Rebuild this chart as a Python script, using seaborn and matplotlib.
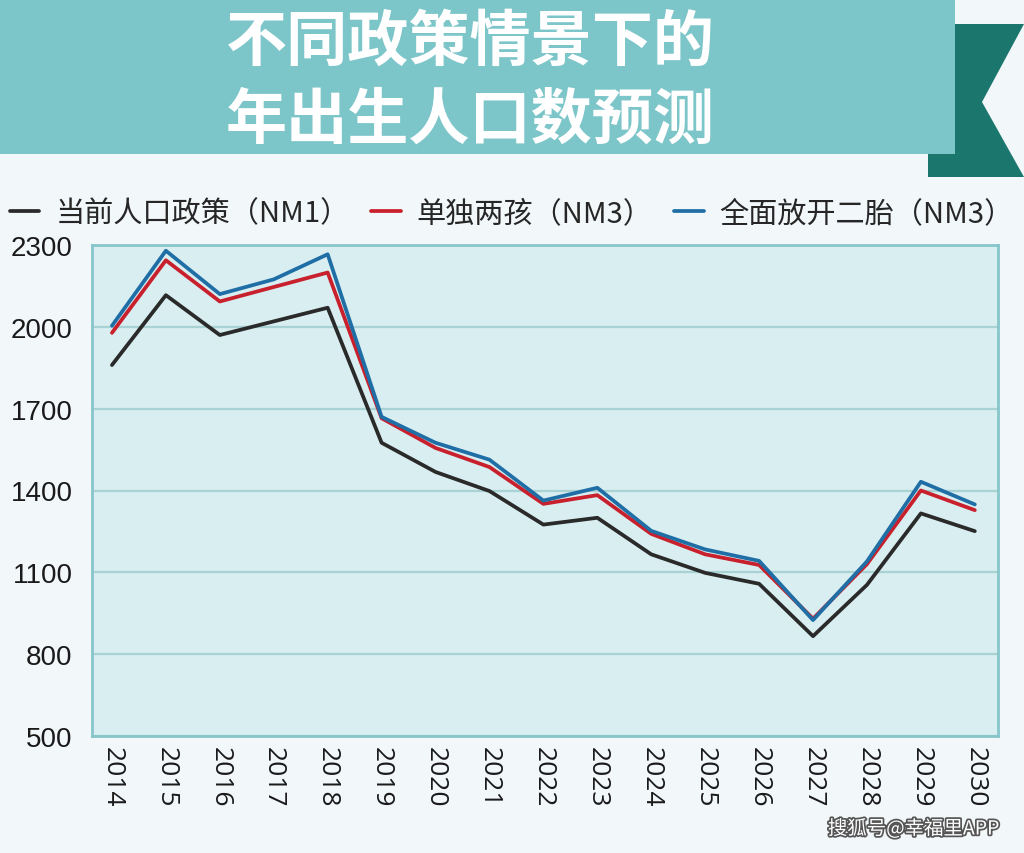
import numpy as np
import pandas as pd
import matplotlib
matplotlib.use("Agg")
import matplotlib.pyplot as plt
from matplotlib.patches import Rectangle, Polygon
import matplotlib.patheffects as pe
from matplotlib.ticker import FixedLocator
import seaborn as sns

# ---- data ----
years = list(range(2014, 2031))
series_names = ["当前人口政策（NM1）", "单独两孩（NM3）", "全面放开二胎（NM3）"]
current_nm1 = [1860, 2116, 1970, 2020, 2070, 1575, 1468, 1398, 1275, 1300, 1166, 1098, 1058, 866, 1054, 1316, 1251]
single_two = [1978, 2244, 2093, 2146, 2199, 1665, 1556, 1486, 1351, 1383, 1241, 1166, 1127, 930, 1130, 1400, 1328]
universal_two = [2004, 2279, 2120, 2174, 2266, 1670, 1575, 1513, 1363, 1410, 1252, 1184, 1142, 925, 1140, 1432, 1349]
y_ticks = [500, 800, 1100, 1400, 1700, 2000, 2300]
title_lines = ["不同政策情景下的", "年出生人口数预测"]
watermark = "搜狐号@幸福里APP"

colors = ["#2a2a2a", "#c8202c", "#1f6ea6"]

df = pd.DataFrame({
    "year": years * 3,
    "value": current_nm1 + single_two + universal_two,
    "series": [series_names[0]] * len(years) + [series_names[1]] * len(years) + [series_names[2]] * len(years),
})

sns.set_theme(style="white")
plt.rcParams["font.family"] = ["Noto Sans CJK SC", "DejaVu Sans"]

W, H = 1024, 854
fig = plt.figure(figsize=(W / 100, H / 100), dpi=100, facecolor="#f2f7f9")

# banner
fig.patches.append(Polygon([[928 / W, 1 - 25 / H], [1, 1 - 25 / H], [982 / W, 1 - 103 / H],
                            [1, 1 - 178 / H], [928 / W, 1 - 178 / H]], closed=True,
                           transform=fig.transFigure, facecolor="#1b776d", edgecolor="none", zorder=0))
fig.patches.append(Rectangle((0, 1 - 155 / H), 955 / W, 155 / H, transform=fig.transFigure,
                             facecolor="#7cc5c9", edgecolor="none", zorder=1))
fig.text(470 / W, 1 - 43 / H, title_lines[0], ha="center", va="center", fontsize=44,
         fontweight="heavy", color="white", zorder=2)
fig.text(470 / W, 1 - 121 / H, title_lines[1], ha="center", va="center", fontsize=44,
         fontweight="heavy", color="white", zorder=2)

ax = fig.add_axes([92 / W, 117 / H, 906 / W, 491 / H])
ax.set_facecolor("#d9eef0")

sns.lineplot(data=df, x="year", y="value", hue="series", palette=colors,
             hue_order=series_names, linewidth=2.7, ax=ax, legend=True)

handles, labels = ax.get_legend_handles_labels()
ax.get_legend().remove()
fig.legend(handles, labels, loc="center left", bbox_to_anchor=(10 / W, 1 - 214 / H),
           ncol=3, frameon=False, fontsize=21, handlelength=1.0, handletextpad=0.55,
           columnspacing=0.75, borderpad=0, borderaxespad=0)

ax.set_ylim(500, 2300)
ax.set_xlim(2013.63, 2030.43)
ax.set_yticks(y_ticks)
ax.set_yticklabels([str(v) for v in y_ticks], fontsize=20, family=["Liberation Sans", "DejaVu Sans"], color="#1a1a1a")
ax.set_xticks(years)
ax.set_xticklabels([str(y) for y in years], rotation=270, fontsize=19, family=["Open Sans", "DejaVu Sans"], color="#1a1a1a")
ax.xaxis.set_minor_locator(FixedLocator([y + 0.5 for y in years[:-1]]))
ax.tick_params(axis="x", which="major", length=0, pad=7)
ax.tick_params(axis="x", which="minor", direction="in", length=6, width=1, color="#8fb9bd")
ax.tick_params(axis="y", which="major", length=0, pad=14)
ax.grid(axis="y", color="#a9d2d5", linewidth=1.6)
ax.set_axisbelow(True)
ax.set_xlabel("")
ax.set_ylabel("")
for s in ax.spines.values():
    s.set_color("#86c6cb")
    s.set_linewidth(2)

fig.text(1000 / W, 1 - 830 / H, watermark, ha="right", va="center", fontsize=14, color="white",
         path_effects=[pe.withStroke(linewidth=2.5, foreground="#555555")])

fig.savefig("out.png", dpi=100, facecolor=fig.get_facecolor())
